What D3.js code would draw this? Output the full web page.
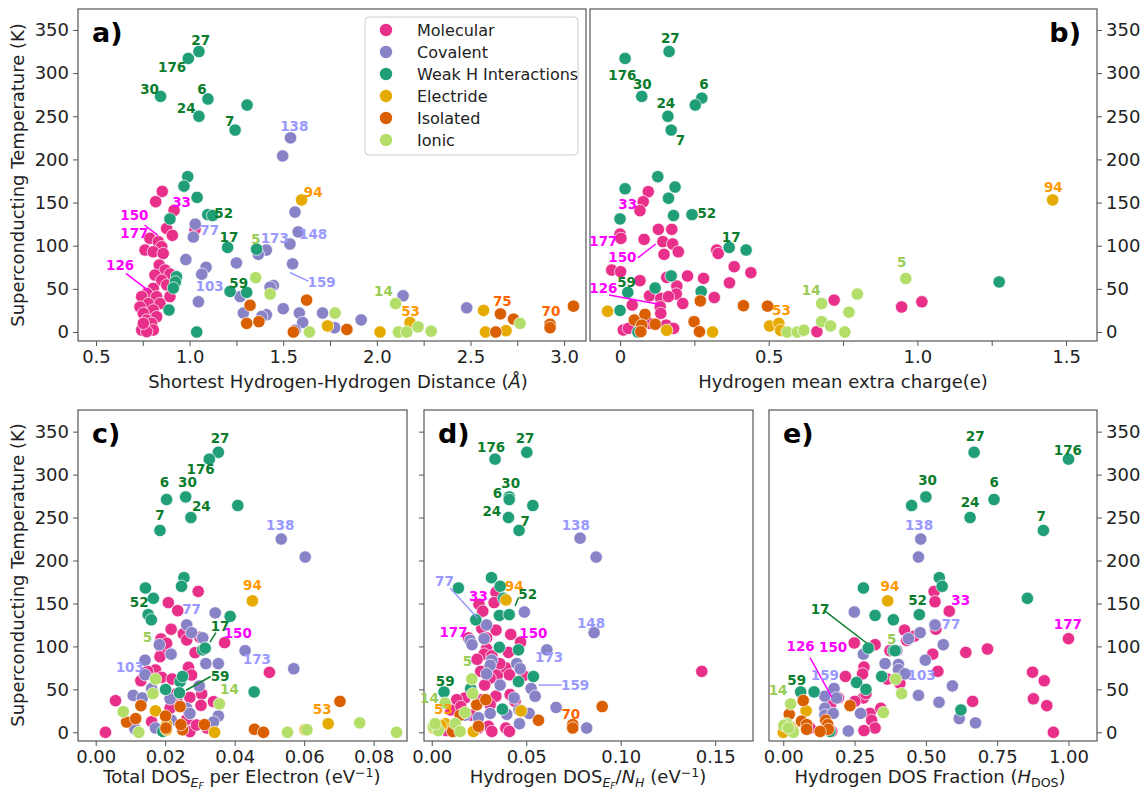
<!DOCTYPE html>
<html>
<head>
<meta charset="utf-8">
<script src="https://cdn.jsdelivr.net/npm/d3@7"></script>
<style>
  body { margin: 0; background: #fff; }
  text { font-family: "DejaVu Sans", sans-serif; }
</style>
</head>
<body>
<svg id="chart" width="1143" height="792"></svg>
<script>
// categories, in plotting order
const categories = ["Molecular", "Covalent", "Weak H Interactions", "Electride", "Isolated", "Ionic"]
const catColors = ["#e8308b", "#8883c6", "#1f9e78", "#e6ab02", "#d95f02", "#b3de69"]
const labelColors = ["#ff00ff", "#9999ff", "#0a7d2c", "#ff9900", "#ff6600", "#99cc55"]

const tcTicks = [0, 50, 100, 150, 200, 250, 300, 350]

// ---- panel a: shortest H-H distance vs Tc ----
const aMolecular = [[0.854,163],[0.819,151],[0.917,141],[0.877,120],[0.908,112],[1.029,119],[0.788,108.6],[0.833,104.6],[0.851,98.8],[0.762,95],[0.806,93],[0.859,91],
  [0.838,77.6],[0.869,71.8],[0.895,67.2],[0.815,66],[0.851,60],[0.806,50.6],[0.878,54.5],[0.771,44.8],[0.744,41],[0.824,41],[0.895,41],[0.78,33],[0.842,33],
  [0.735,29],[0.806,25.5],[0.753,21.6],[0.824,17.7],[0.771,13.9],[0.797,10],[0.744,2.3],[0.806,2.3],[0.771,0.4],[0.753,10]]
const aCovalent = [[1.539,225],[1.497,204],[1.563,139],[1.58,116],[1.536,102],[1.55,79],[1.41,95],[1.367,90],[1.25,80],[1.03,125],[1.02,110],[0.98,84],
  [1.088,75],[1.065,67],[1.047,35],[1.27,41],[1.287,22],[1.41,20],[1.385,18],[1.447,54],[1.43,52],[1.5,27],[1.586,22],[1.604,11],[1.71,22],[1.77,5],
  [1.563,2],[2.48,28],[2.14,42],[1.916,14],[1.775,5]]
const aWeak = [[1.05,325],[0.993,317],[0.845,273],[1.098,270],[1.05,250],[1.307,263],[1.243,234],[0.99,180],[0.97,169],[1.04,156],[0.895,131],[1.097,136],
  [1.123,135],[1.203,98],[1.358,96],[0.93,64],[0.924,58],[0.913,51],[1.216,47],[1.305,46],[0.89,25.5],[1.038,0]]
const aElectride = [[1.598,153],[1.737,7],[2.57,25],[2.017,0],[2.177,11],[2.58,0],[2.69,1.5]]
const aIsolated = [[1.323,31],[1.305,10],[1.37,12],[1.625,37],[1.554,0],[1.84,3],[2.66,21],[2.73,15],[2.635,0],[2.925,9],[2.925,5],[3.05,30]]
const aIonic = [[1.353,63],[1.43,44],[1.64,0],[1.777,22],[2.10,33],[2.115,0],[2.16,0],[2.22,6],[2.29,1],[2.765,10]]
const aLabels = [["27",1.059,338,2],["176",0.907,307,2],["30",0.786,281,2],["6",1.066,282,2],["24",0.982,260,2],["7",1.214,244,2],["52",1.182,137.5,2],
  ["17",1.21,110,2],["59",1.262,57,2],["138",1.559,238,1],["94",1.66,162,3],["148",1.66,113,1],["173",1.455,109,1],["5",1.353,108,5],["77",1.107,118,1],
  ["103",1.107,53,1],["159",1.705,58,1],["33",0.957,151,0],["150",0.705,135,0],["177",0.705,115,0],["126",0.629,78,0],["14",2.035,47.5,5],
  ["53",2.18,24,3],["75",2.67,36,4],["70",2.93,24,4]]
const aLines = [[1.536,69,1.634,59,1],[0.759,124,0.83,112,0],[0.66,68,0.78,48,0]]

// ---- panel b: hydrogen mean extra charge vs Tc ----
const bMolecular = [[0.095,162.6],[0.078,151],[0.067,140.6],[0.0,113.5],[0.003,108.5],[0.081,107.4],[0.129,119],[0.174,119],[0.144,104.7],[0.177,102],
  [0.148,90],[0.196,93],[0.325,95],[0.33,91],[0.384,75.7],[0.44,68.7],[0.368,57],[-0.028,71.8],[0.002,69.9],[0.067,59.5],[0.157,63.3],[0.191,53.3],
  [0.227,64.9],[0.281,62.2],[0.189,44],[0.099,42],[0.137,39],[0.163,41],[0.211,33],[0.317,40],[0.041,31.3],[0.135,29.3],[0.137,21.6],[0.101,10],
  [0.155,8],[0.18,4.2],[0.011,2.3],[0.028,4.2],[0.662,0.4],[0.72,37],[0.947,29],[1.015,35]]
const bWeak = [[0.017,317],[0.165,325],[0.073,273],[0.275,271],[0.253,263],[0.161,250],[0.172,234],[0.127,180],[0.185,168],[0.017,166],[0.163,155],
  [0.18,135],[0.242,136],[0.0,131],[0.367,98],[0.424,95],[0.172,65],[0.118,51],[0.026,46],[0.0,25],[0.273,47],[0.06,0],[1.275,58]]
const bElectride = [[-0.042,24],[0.157,2],[0.311,0],[0.503,7],[0.534,10],[0.54,2],[1.455,153]]
const bIsolated = [[0.048,13.9],[0.084,20.5],[0.073,8],[0.07,0.4],[0.118,9],[0.249,12],[0.267,0.4],[0.27,36],[0.415,30.5],[0.496,30]]
const bIonic = [[0.562,0],[0.596,0],[0.618,2],[0.678,33],[0.678,12],[0.708,7],[0.77,23],[0.756,0],[0.798,44],[0.961,62]]
const bLabels = [["27",0.169,341,2],["176",0.008,298,2],["30",0.075,287,2],["6",0.282,287,2],["24",0.154,265,2],["7",0.203,222,2],["52",0.292,137.5,2],
  ["17",0.374,110,2],["59",0.022,57.5,2],["33",0.026,148,0],["177",-0.056,105,0],["150",0.008,87,0],["126",-0.056,50.6,0],["14",0.643,48,5],
  ["53",0.543,25,3],["5",0.947,81,5],["94",1.457,168,3]]
const bLines = [[0.06,86,0.12,102,0],[-0.037,43,0.135,32,0]]

// ---- panel c: total DOS at Ef per electron vs Tc ----
const cMolecular = [[0.0295,164],[0.0209,151],[0.0236,141.6],[0.0217,120],[0.0188,108.7],[0.0252,114.5],[0.0262,107.5],[0.019,95.8],[0.0204,103.6],
  [0.0286,92.7],[0.03,110.6],[0.0371,104.4],[0.05,69.8],[0.013,60],[0.0172,72.6],[0.019,64],[0.022,62],[0.0267,75.7],[0.0276,66.7],[0.0305,44.6],
  [0.0271,40.7],[0.0233,37.6],[0.0339,35.7],[0.0303,31.4],[0.0057,36.8],[0.0028,0],[0.0161,12.4],[0.0214,28],[0.0262,15],[0.0271,0.8],[0.029,8.5],
  [0.0185,88],[0.032,5],[0.0108,9],[0.0149,71],[0.0233,45]]
const cCovalent = [[0.0534,225],[0.0603,204],[0.0344,139],[0.057,74],[0.043,95],[0.0262,125],[0.0276,116],[0.0308,110],[0.0183,102],[0.0217,91],
  [0.0317,80],[0.0353,80],[0.0142,84],[0.0142,67],[0.0108,43],[0.0134,40],[0.0161,51],[0.0298,54],[0.0214,39],[0.0262,28],[0.0271,22],[0.0218,14],
  [0.0353,19],[0.0339,12],[0.0172,5],[0.0113,4]]
const cWeak = [[0.0353,326],[0.0327,318],[0.0259,274],[0.0204,271],[0.0274,250],[0.0185,235],[0.0409,264],[0.0254,180],[0.0247,170],[0.0143,168],
  [0.0166,156],[0.0151,137],[0.016,131],[0.0387,135],[0.0308,96],[0.0315,98],[0.0243,59],[0.025,65],[0.0241,46],[0.0201,50],[0.0456,47],[0.0193,1]]
const cElectride = [[0.0451,153],[0.0172,25],[0.0204,9],[0.0204,3],[0.0342,0],[0.0603,3],[0.0669,10]]
const cIsolated = [[0.0703,36],[0.0457,3.5],[0.0483,0],[0.013,31],[0.0089,12],[0.0115,16],[0.0201,19],[0.0243,30],[0.025,3],[0.0245,9],[0.0313,9],[0.0202,5]]
const cIonic = [[0.0172,62],[0.0165,45],[0.0079,24],[0.0124,0],[0.0356,33],[0.0552,0],[0.0608,3],[0.076,11],[0.0866,0]]
const cLabels = [["27",0.0358,342,2],["176",0.0302,306,2],["6",0.0198,291,2],["30",0.0264,291,2],["24",0.0304,263,2],["7",0.0185,253,2],
  ["138",0.0531,241,1],["94",0.0451,171,3],["52",0.0125,151,2],["77",0.0276,143.6,1],["17",0.0358,124,2],["150",0.0409,116,0],["5",0.0149,110.6,5],
  ["103",0.0098,76,1],["173",0.0464,85,1],["59",0.0358,65,2],["14",0.0385,50,5],["53",0.0652,27,3]]
const cLines = [[0.0346,116,0.0329,105,2],[0.0331,65,0.026,49,2]]

// ---- panel d: hydrogen DOS at Ef / N_H vs Tc ----
const dMolecular = [[0.034,163],[0.033,151],[0.025,149],[0.027,141],[0.0265,121],[0.034,119],[0.0418,114],[0.0194,110],[0.029,110],[0.047,105],
  [0.029,97],[0.0277,91],[0.0406,93],[0.0318,89],[0.0259,71],[0.0348,67],[0.0392,75],[0.0411,67],[0.0485,66],[0.0309,63],[0.1429,71],[0.0415,44],
  [0.0441,36],[0.0339,42],[0.0309,32],[0.0265,38],[0.0176,40],[0.0132,38],[0.01,26],[0.0154,30],[0.0208,20],[0.03,7],[0.0392,5],[0.0411,1],
  [0.0318,1],[0.0076,2],[0.0247,5],[0.024,85],[0.036,80],[0.028,55]]
const dCovalent = [[0.0785,226],[0.087,204],[0.049,140],[0.0859,116],[0.0609,96],[0.029,125],[0.0203,107],[0.0213,102],[0.0277,109],[0.0318,84],
  [0.0309,78],[0.045,80],[0.0468,74],[0.029,68],[0.0362,55],[0.0526,51],[0.0547,42],[0.0436,40],[0.0658,29],[0.0462,26],[0.0515,22],[0.0397,21],
  [0.0309,22],[0.0247,17],[0.0464,10],[0.082,5],[0.0176,20]]
const dWeak = [[0.0503,326],[0.0335,318],[0.041,274],[0.041,271],[0.0535,264],[0.0406,250],[0.0462,235],[0.0316,180],[0.0141,168],[0.0362,170],
  [0.038,156],[0.0358,136],[0.041,137],[0.0233,131],[0.0358,99],[0.0459,96],[0.0538,65],[0.0459,59],[0.0065,47],[0.0206,51],[0.0374,27],[0.0115,1]]
const dElectride = [[0.0393,154],[0.0473,25],[0.0071,10],[0.0009,5],[0.022,1],[0.005,8]]
const dIsolated = [[0.0902,30],[0.0565,14],[0.0746,9],[0.0746,5],[0.0238,32],[0.0286,38],[0.015,20],[0.0247,7],[0.011,1]]
const dIonic = [[0.0212,62],[0.0217,45],[0.0071,34],[0.0176,23],[0.0009,7],[0.0035,2],[0.0124,10],[0.015,1],[0.0018,10]]
const dLabels = [["27",0.0494,342,2],["176",0.0314,332,2],["30",0.0418,290,2],["6",0.0348,279,2],["24",0.0318,258,2],["7",0.0494,246,2],
  ["138",0.0762,241,1],["77",0.0067,176,1],["94",0.0436,170,3],["33",0.0247,159,0],["52",0.0508,161,2],["177",0.0115,117,0],["150",0.0538,116,0],
  ["148",0.0843,127,1],["173",0.0621,88,1],["5",0.0189,83,5],["59",0.0071,60,2],["159",0.0759,55,1],["14",-0.0012,40,5],["53",0.0062,27,3],
  ["70",0.0736,21,4]]
const dLines = [[0.0097,168,0.0242,133,1],[0.0459,157,0.0441,147,2],[0.0565,55,0.0688,55,1]]

// ---- panel e: hydrogen DOS fraction vs Tc ----
const eMolecular = [[0.529,164],[0.532,152],[0.582,141],[0.425,119],[0.433,107],[0.535,120],[0.249,104],[0.322,102],[0.374,95],[0.524,91],[0.64,93],
  [0.716,97],[1.0,109],[0.542,71],[0.874,70],[0.915,60],[0.877,39],[0.924,31],[0.947,0],[0.664,36],[0.283,76],[0.278,68],[0.218,65],[0.365,62],
  [0.409,57],[0.281,40],[0.251,36],[0.193,40],[0.166,32],[0.304,22],[0.31,14],[0.322,5],[0.283,2],[0.342,28],[0.17,1],[0.012,5],[0.094,5],[0.29,45],
  [0.46,112]]
const eCovalent = [[0.482,225],[0.474,204],[0.249,140],[0.532,125],[0.48,116],[0.439,109],[0.561,102],[0.398,95],[0.281,91],[0.357,80],[0.404,79],
  [0.404,73],[0.427,68],[0.498,84],[0.593,54],[0.474,43],[0.546,35],[0.617,16],[0.674,11],[0.228,1.5],[0.271,22],[0.178,51],[0.146,42],[0.187,40],
  [0.146,28],[0.146,20],[0.175,22]]
const eWeak = [[0.669,326],[1.0,318],[0.5,274],[0.739,271],[0.45,264],[0.655,250],[0.912,235],[0.547,180],[0.557,170],[0.281,168],[0.856,156],
  [0.477,137],[0.322,136],[0.386,131],[0.298,98],[0.386,95],[0.392,95],[0.257,58],[0.29,50],[0.345,65],[0.061,47],[0.108,47],[0.623,26],[0.164,1]]
const eElectride = [[0.366,153],[0.08,25],[0.0,0],[0.023,7],[0.035,2]]
const eIsolated = [[0.07,37],[0.021,21],[0.234,31],[0.064,13],[0.082,9],[0.082,3.5],[0.135,1.5],[0.149,14],[0.156,9],[0.158,3.5],[0.129,1],[0.009,9]]
const eIonic = [[0.394,62],[0.415,45],[0.351,23],[0.026,33],[0.012,10],[0.002,8],[0.035,0],[0.018,5]]
const eLabels = [["27",0.673,345,2],["176",0.998,329,2],["30",0.506,293,2],["6",0.74,291,2],["24",0.655,268.5,2],["7",0.904,252,2],
  ["138",0.476,241,1],["94",0.374,170,3],["52",0.471,154,2],["33",0.622,154,0],["17",0.129,143,2],["77",0.588,126,1],["177",0.998,126.5,0],
  ["126",0.061,100,0],["150",0.175,98.6,0],["5",0.38,109,5],["159",0.146,67,1],["103",0.485,67,1],["59",0.047,61,2],["14",-0.018,49,5]]
const eLines = [[0.143,142,0.292,104,2],[0.094,87,0.17,41,0]]

const svg = d3.select("#chart")
const frameColor = "#555"

// rich text helper: parts = [text, level, italic], level 0 base, 1 sup, -1 sub, -2 sub of sub
function rich(t, parts, size) {
  let cur = 0
  parts.forEach(p => {
    const lvl = p[1] || 0
    const off = lvl === 1 ? -0.34 * size : lvl === -1 ? 0.22 * size : lvl === -2 ? 0.34 * size : 0
    const fs = lvl === 0 ? size : lvl === -2 ? size * 0.5 : size * 0.7
    t.append("tspan").attr("dy", off - cur).attr("font-size", fs)
      .attr("font-style", p[2] ? "italic" : null).text(p[0])
    cur = off
  })
}

const fmtHalf = d => Math.abs(d * 2 - Math.round(d * 2)) < 1e-6 ? (d === 0 ? "0" : d3.format(".1f")(d)) : ""

const panels = [
  { letter: "a)", box: [78, 586, 9, 341], xd: [0.404, 3.117], yd: [-10.4, 374.3], xt: d3.range(0.5, 3.01, 0.25), xf: fmtHalf,
    yside: "left", ylab: true, sets: [aMolecular, aCovalent, aWeak, aElectride, aIsolated, aIonic], labels: aLabels, lines: aLines,
    xlabel: [["Shortest Hydrogen-Hydrogen Distance ("], ["Å", 0, true], [")"]], xlx: 338, xly: 388 },
  { letter: "b)", box: [590, 1097, 9, 341], xd: [-0.101, 1.604], yd: [-10.4, 374.3], xt: d3.range(0, 1.51, 0.25), xf: fmtHalf,
    yside: "right", ylab: true, sets: [bMolecular, [], bWeak, bElectride, bIsolated, bIonic], labels: bLabels, lines: bLines,
    xlabel: [["Hydrogen mean extra charge(e)"]], xlx: 843, xly: 388 },
  { letter: "c)", box: [78, 407, 410, 741], xd: [-0.0051, 0.0896], yd: [-10.1, 375.2], xt: [0, 0.02, 0.04, 0.06, 0.08], xf: d3.format(".2f"),
    yside: "left", ylab: true, sets: [cMolecular, cCovalent, cWeak, cElectride, cIsolated, cIonic], labels: cLabels, lines: cLines,
    xlabel: [["Total DOS"], ["E", -1, true], ["F", -2, true], [" per Electron (eV"], ["−1", 1], [")"]], xlx: 242, xly: 783 },
  { letter: "d)", box: [424, 753, 410, 741], xd: [-0.0041, 0.170], yd: [-10.1, 375.2], xt: [0, 0.05, 0.10, 0.15], xf: d3.format(".2f"),
    yside: "left", ylab: false, sets: [dMolecular, dCovalent, dWeak, dElectride, dIsolated, dIonic], labels: dLabels, lines: dLines,
    xlabel: [["Hydrogen DOS"], ["E", -1, true], ["F", -2, true], ["/", 0], ["N", 0, true], ["H", -1, true], [" (eV", 0], ["−1", 1], [")"]], xlx: 588, xly: 783 },
  { letter: "e)", box: [769, 1097, 410, 741], xd: [-0.05, 1.10], yd: [-10.1, 375.2], xt: [0, 0.25, 0.5, 0.75, 1.0], xf: d3.format(".2f"),
    yside: "right", ylab: true, sets: [eMolecular, eCovalent, eWeak, eElectride, eIsolated, eIonic], labels: eLabels, lines: eLines,
    xlabel: [["Hydrogen DOS Fraction ("], ["H", 0, true], ["DOS", -1], [")", 0]], xlx: 930, xly: 783 }
]

panels.forEach(p => {
  const [l, r, t, b] = p.box
  const x = d3.scaleLinear().domain(p.xd).range([l, r])
  const y = d3.scaleLinear().domain(p.yd).range([b, t])
  const g = svg.append("g")

  // x axis
  const xa = g.append("g").attr("transform", `translate(0,${b})`)
    .call(d3.axisBottom(x).tickValues(p.xt).tickFormat(p.xf).tickSize(5).tickPadding(4))
  // y axis
  const ya = g.append("g").attr("transform", `translate(${p.yside === "left" ? l : r},0)`)
    .call((p.yside === "left" ? d3.axisLeft(y) : d3.axisRight(y)).tickValues(tcTicks)
      .tickFormat(p.ylab ? d3.format("d") : "").tickSize(5).tickPadding(4))
  ;[xa, ya].forEach(a => {
    a.select(".domain").remove()
    a.selectAll("line").attr("stroke", frameColor)
    a.selectAll("text").attr("font-size", 18).attr("fill", "#222").attr("font-family", "DejaVu Sans, sans-serif")
  })

  // frame
  g.append("rect").attr("x", l).attr("y", t).attr("width", r - l).attr("height", b - t)
    .attr("fill", "none").attr("stroke", frameColor).attr("stroke-width", 1.2)

  // points
  const clip = "clip" + p.letter[0]
  svg.append("clipPath").attr("id", clip).append("rect").attr("x", l).attr("y", t).attr("width", r - l).attr("height", b - t)
  const pts = g.append("g").attr("clip-path", `url(#${clip})`)
  p.sets.forEach((set, ci) => {
    pts.append("g").selectAll("circle").data(set).enter().append("circle")
      .attr("cx", d => x(d[0])).attr("cy", d => y(d[1])).attr("r", 6.2)
      .attr("fill", catColors[ci]).attr("stroke", "#fff").attr("stroke-width", 0.7)
  })

  // leader lines and number labels
  g.append("g").selectAll("line").data(p.lines).enter().append("line")
    .attr("x1", d => x(d[0])).attr("y1", d => y(d[1])).attr("x2", d => x(d[2])).attr("y2", d => y(d[3]))
    .attr("stroke", d => labelColors[d[4]]).attr("stroke-width", 1.5)
  g.append("g").selectAll("text").data(p.labels).enter().append("text")
    .attr("x", d => x(d[1])).attr("y", d => y(d[2])).attr("dy", "0.36em")
    .attr("text-anchor", "middle").attr("font-family", "Liberation Sans, Arial, sans-serif")
    .attr("font-weight", "bold").attr("font-size", 13.5).attr("fill", d => labelColors[d[3]])
    .text(d => d[0])

  // panel letter
  g.append("text").attr("x", p.letter === "b)" ? r - 16 : l + 14).attr("y", t + 33)
    .attr("text-anchor", p.letter === "b)" ? "end" : "start")
    .attr("font-family", "Liberation Sans, Arial, sans-serif").attr("font-weight", "bold").attr("font-size", 27)
    .text(p.letter)

  // x label
  const xl = svg.append("text").attr("x", p.xlx).attr("y", p.xly).attr("text-anchor", "middle")
    .attr("font-size", 18).attr("fill", "#222")
  rich(xl, p.xlabel, 18)
})

// y labels
;[175, 575].forEach(cy => {
  svg.append("text").attr("transform", `translate(24,${cy}) rotate(-90)`).attr("text-anchor", "middle")
    .attr("font-size", 18).attr("fill", "#222").text("Superconducting Temperature (K)")
})

// legend in panel a
const lg = svg.append("g").attr("transform", "translate(365,17)")
lg.append("rect").attr("width", 213).attr("height", 138).attr("rx", 4)
  .attr("fill", "#fff").attr("fill-opacity", 0.85).attr("stroke", "#ccc")
categories.forEach((c, i) => {
  lg.append("circle").attr("cx", 21).attr("cy", 13 + i * 22).attr("r", 6.2).attr("fill", catColors[i])
  lg.append("text").attr("x", 52).attr("y", 13 + i * 22).attr("dy", "0.36em").attr("font-size", 16).attr("fill", "#222").text(c)
})
</script>
</body>
</html>
